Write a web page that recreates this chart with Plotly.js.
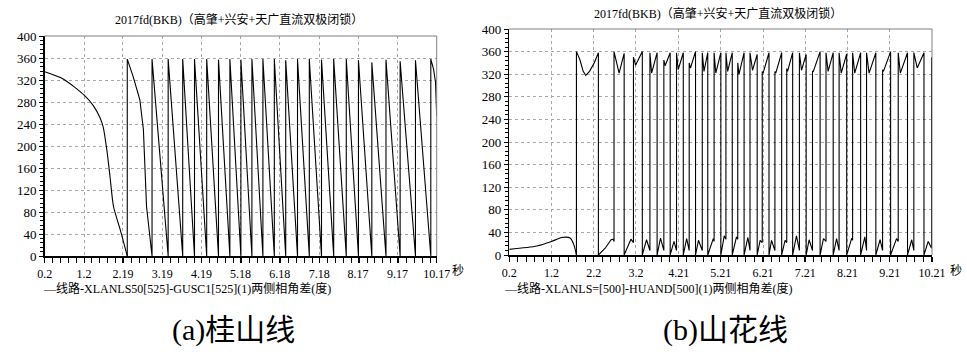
<!DOCTYPE html>
<html>
<head>
<meta charset="utf-8">
<script src="https://cdn.plot.ly/plotly-3.0.1.min.js"></script>
<style>html,body{margin:0;padding:0;background:#fff;}#chart{width:967px;height:360px;}</style>
</head>
<body>
<div id="chart"></div>
<script>
// ---------- (a) 桂山线 ----------
const leftTickVals = [0.2, 1.2, 2.19, 3.19, 4.19, 5.18, 6.18, 7.18, 8.17, 9.17, 10.17];
const leftTickText = ["0.2", "1.2", "2.19", "3.19", "4.19", "5.18", "6.18", "7.18", "8.17", "9.17", "10.17"];
// initial smooth decline before first slip
const leftCurveT = [0.2, 0.67, 1.21, 1.44, 1.61, 1.69, 1.78, 1.86, 1.95, 2.12, 2.30];
const leftCurveV = [335, 322, 292, 273, 251, 234, 193, 145, 90, 48, 0];
// times of the 0 -> 360 wraps and the value reached at the top
const leftJumpT = [2.30, 2.93, 3.34, 3.71, 4.01, 4.32, 4.62, 4.91, 5.19, 5.47, 5.75, 6.04, 6.33, 6.63, 6.93, 7.24, 7.55, 7.87, 8.18, 8.52, 8.88, 9.24, 9.63, 10.02];
const leftTopV = [358, 358, 358, 358, 358, 358, 357, 358, 357, 358, 358, 358, 356, 358, 358, 357, 358, 358, 356, 352, 357, 354, 356, 358];
// shape of the first descent and of the last (cut) descent
const leftFirstDropT = [2.45, 2.62, 2.71, 2.79];
const leftFirstDropV = [326, 284, 230, 90];
const leftLastDropT = [10.09, 10.14, 10.17];
const leftLastDropV = [340, 316, 255];

// ---------- (b) 山花线 ----------
const rightTickVals = [0.2, 1.2, 2.2, 3.2, 4.21, 5.21, 6.21, 7.21, 8.21, 9.21, 10.21];
const rightTickText = ["0.2", "1.2", "2.2", "3.2", "4.21", "5.21", "6.21", "7.21", "8.21", "9.21", "10.21"];
const rightStartT = [0.2, 0.85, 1.20, 1.44, 1.64, 1.73, 1.79];
const rightStartV = [10, 16, 24, 31, 30, 18, 0];
// wrap times: low -> high (up) and high -> low (down)
const rightUpT = [1.79, 2.68, 3.14, 3.53, 3.86, 4.16, 4.46, 4.77, 5.05, 5.33, 5.61, 5.90, 6.19, 6.49, 6.77, 7.07, 7.38, 7.70, 8.01, 8.33, 8.66, 9.04, 9.41, 9.78, 10.20];
const rightDownT = [2.31, 2.92, 3.35, 3.70, 4.01, 4.32, 4.61, 4.90, 5.21, 5.48, 5.76, 6.07, 6.35, 6.65, 6.91, 7.23, 7.56, 7.87, 8.19, 8.52, 8.88, 9.23, 9.63, 10.02];
// upper excursions
const hiStartV = [360, 360, 350, 358, 345, 358, 340, 358, 358, 358, 340, 358, 325, 325, 330, 358, 325, 358, 358, 358, 358, 328, 358, 358];
const hiDipT = [2.01, 2.80, 3.19, 3.57, 3.89, 4.20, 4.49, 4.81, 5.09, 5.37, 5.64, 5.96, 6.21, 6.51, 6.79, 7.12, 7.40, 7.75, 8.06, 8.38, 8.72, 9.06, 9.46, 9.86];
const hiDipV = [318, 322, 336, 322, 335, 328, 331, 325, 322, 325, 320, 327, 322, 322, 325, 327, 325, 325, 322, 322, 322, 325, 322, 331];
const hiEndV = [358, 357, 360, 358, 358, 358, 360, 358, 358, 358, 358, 355, 358, 358, 358, 355, 360, 358, 356, 358, 358, 360, 358, 358];
const bigVPreT = [1.87, 1.95];
const bigVPreV = [346, 325];
const bigVPostT = [2.10, 2.21];
const bigVPostV = [325, 340];
// lower excursions
const lowPeakT = [2.66, 3.08, 3.45, 3.78, 4.10, 4.40, 4.68, 5.03, 5.29, 5.58, 5.85, 6.14, 6.41, 6.73, 7.00, 7.30, 7.64, 7.95, 8.31, 8.62, 8.98, 9.37, 9.73, 10.12];
const lowPeakV = [28, 28, 27, 30, 24, 29, 26, 29, 34, 32, 31, 26, 26, 26, 34, 27, 29, 29, 30, 32, 27, 29, 27, 24];
const lowEndV = [24, 22, 8, 8, 8, 8, 8, 24, 28, 28, 8, 22, 8, 22, 8, 8, 24, 8, 26, 8, 8, 24, 8, 12];
const firstLowT = [2.47, 2.61];
const firstLowV = [12, 27];
const rightLastTopV = 350;

// ---------- build traces ----------
const lx = [], ly = [];
for (let i = 0; i < leftJumpT.length; i++) {
  lx.push(leftJumpT[i], leftJumpT[i]); ly.push(0, leftTopV[i]);
  if (i === 0) { leftFirstDropT.forEach((t, k) => { lx.push(t); ly.push(leftFirstDropV[k]); }); }
  if (i === leftJumpT.length - 1) { leftLastDropT.forEach((t, k) => { lx.push(t); ly.push(leftLastDropV[k]); }); }
}

const rx = [rightStartT[rightStartT.length - 1]], ry = [rightStartV[rightStartV.length - 1]];
for (let i = 0; i < rightDownT.length; i++) {
  rx.push(rightUpT[i]); ry.push(hiStartV[i]);
  if (i === 0) bigVPreT.forEach((t, k) => { rx.push(t); ry.push(bigVPreV[k]); });
  rx.push(hiDipT[i]); ry.push(hiDipV[i]);
  if (i === 0) bigVPostT.forEach((t, k) => { rx.push(t); ry.push(bigVPostV[k]); });
  rx.push(rightDownT[i], rightDownT[i]); ry.push(hiEndV[i], 0);
  if (i === 0) firstLowT.forEach((t, k) => { rx.push(t); ry.push(firstLowV[k]); });
  rx.push(lowPeakT[i]); ry.push(lowPeakV[i]);
  rx.push(rightUpT[i + 1]); ry.push(lowEndV[i]);
}
rx.push(rightUpT[rightUpT.length - 1]); ry.push(rightLastTopV);

const lineStyle = {color: '#000', width: 1.1};
const smoothStyle = {color: '#000', width: 1.1, shape: 'spline', smoothing: 0.7};
const traces = [
  {x: leftCurveT, y: leftCurveV, type: 'scatter', mode: 'lines', line: smoothStyle, xaxis: 'x', yaxis: 'y', hoverinfo: 'skip'},
  {x: lx, y: ly, type: 'scatter', mode: 'lines', line: lineStyle, xaxis: 'x', yaxis: 'y', hoverinfo: 'skip'},
  {x: rightStartT, y: rightStartV, type: 'scatter', mode: 'lines', line: smoothStyle, xaxis: 'x2', yaxis: 'y2', hoverinfo: 'skip'},
  {x: rx, y: ry, type: 'scatter', mode: 'lines', line: lineStyle, xaxis: 'x2', yaxis: 'y2', hoverinfo: 'skip'}
];

const FONT = 'Liberation Serif, Noto Sans CJK SC, serif';
const yTicks = [0, 40, 80, 120, 160, 200, 240, 280, 320, 360, 400];
function xAxis(dom, range, vals, text, anchor) {
  return {domain: dom, range: range, anchor: anchor, tickvals: vals, ticktext: text,
    showgrid: true, gridcolor: '#a8a8a8', griddash: 'dot', gridwidth: 1,
    showline: true, linecolor: '#000', linewidth: 1.5, zeroline: false,
    ticks: 'outside', ticklen: 5, tickwidth: 1, tickcolor: '#000', ticklabelstandoff: 1,
    minor: {tick0: 0.2, dtick: (vals[1] - vals[0]) / 5, ticks: 'outside', ticklen: 5, tickwidth: 1, tickcolor: '#000', showgrid: false},
    tickfont: {family: FONT, size: 12, color: '#000'}, fixedrange: true};
}
function yAxis(dom, anchor) {
  return {domain: dom, range: [0, 400], anchor: anchor, tickvals: yTicks,
    showgrid: true, gridcolor: '#a8a8a8', griddash: 'dot', gridwidth: 1,
    showline: true, linecolor: '#000', linewidth: 1.5, zeroline: false,
    ticks: 'outside', ticklen: 4, tickwidth: 1, tickcolor: '#000',
    minor: {dtick: 8, ticks: 'outside', ticklen: 3, tickwidth: 1, tickcolor: '#000', showgrid: false},
    tickfont: {family: FONT, size: 13, color: '#000'}, fixedrange: true};
}
function frame(xr, yr) {
  return [
    {type: 'line', xref: xr + ' domain', yref: yr + ' domain', x0: 0, x1: 1, y0: 1, y1: 1, line: {color: '#808080', width: 1}},
    {type: 'line', xref: xr + ' domain', yref: yr + ' domain', x0: 1, x1: 1, y0: 0, y1: 1, line: {color: '#808080', width: 1}}
  ];
}
const W = 967, H = 360;
function ann(text, px, py, size, xanchor, family) {
  return {text: text, xref: 'paper', yref: 'paper', x: px / W, y: 1 - py / H, xanchor: xanchor || 'center', yanchor: 'middle',
    showarrow: false, font: {family: family || FONT, size: size, color: '#000'}};
}

const layout = {
  width: W, height: H, margin: {l: 0, r: 0, t: 0, b: 0}, autosize: false,
  paper_bgcolor: '#fff', plot_bgcolor: '#fff', showlegend: false,
  xaxis: xAxis([44.7 / W, 436.7 / W], [0.2, 10.17], leftTickVals, leftTickText, 'y'),
  yaxis: yAxis([1 - 256 / H, 1 - 36 / H], 'x'),
  xaxis2: xAxis([509.3 / W, 932 / W], [0.2, 10.21], rightTickVals, rightTickText, 'y2'),
  yaxis2: yAxis([1 - 255 / H, 1 - 29 / H], 'x2'),
  shapes: frame('x', 'y').concat(frame('x2', 'y2')),
  annotations: [
    ann('2017fd(BKB)（高肇+兴安+天广直流双极闭锁）', 239, 19, 12),
    ann('2017fd(BKB)（高肇+兴安+天广直流双极闭锁）', 718, 14, 12),
    ann('—线路-XLANLS50[525]-GUSC1[525](1)两侧相角差(度)', 41, 288, 12, 'left'),
    ann('—线路-XLANLS=[500]-HUAND[500](1)两侧相角差(度)', 502, 288, 12, 'left'),
    ann('秒', 458, 271, 12),
    ann('秒', 956, 271, 12),
    ann('(a)桂山线', 233, 330, 30, 'center', 'Liberation Serif, Noto Sans CJK SC, serif'),
    ann('(b)山花线', 725, 330, 30, 'center', 'Liberation Serif, Noto Sans CJK SC, serif')
  ]
};
Plotly.newPlot('chart', traces, layout, {staticPlot: true, displayModeBar: false});
</script>
</body>
</html>
